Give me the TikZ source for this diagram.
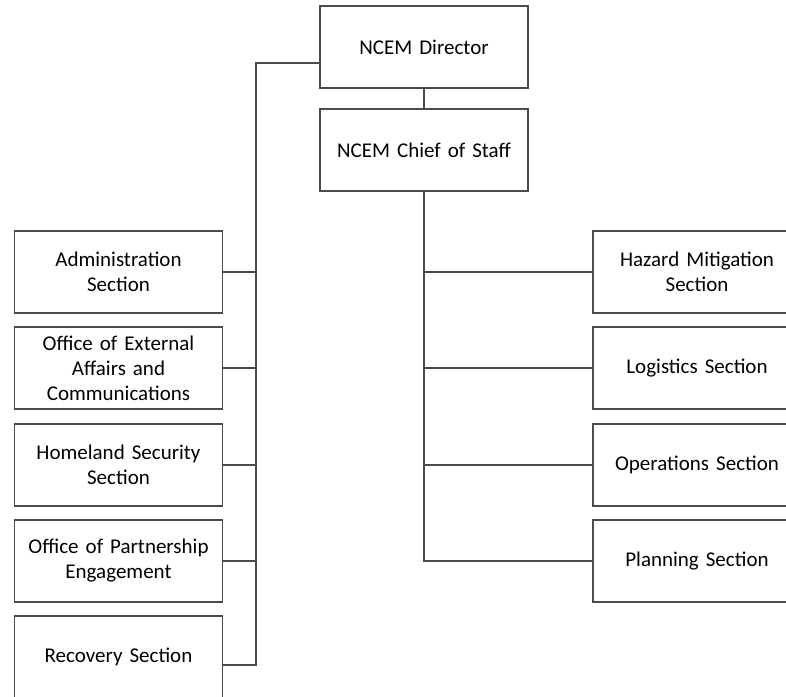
\documentclass[tikz,border=0pt]{standalone}
\usepackage{fontspec}
\setmainfont{Carlito}
\begin{document}
\begin{tikzpicture}[x=1pt,y=-1pt,
  orgbox/.style={draw=black!70, line width=1.3pt, fill=white, minimum width=208pt, minimum height=82pt,
    text width=200pt, align=center, font=\fontsize{21}{25}\selectfont, text=black, inner sep=0pt},
  link/.style={draw=black!70, line width=1.3pt}]
\useasboundingbox (0,0) rectangle (786,696);
\clip (0,0) rectangle (786,696);
\node[orgbox] (dir) at (424,47) {NCEM Director};
\node[orgbox] (cos) at (424,150) {NCEM Chief of Staff};
\node[orgbox] (adm) at (118.5,272) {Administration\\Section};
\node[orgbox] (ext) at (118.5,368) {Office of External\\Affairs and\\Communications};
\node[orgbox] (hom) at (118.5,465) {Homeland Security\\Section};
\node[orgbox] (par) at (118.5,561) {Office of Partnership\\Engagement};
\node[orgbox] (rec) at (118.5,657) {Recovery Section};
\node[orgbox] (haz) at (697,272) {Hazard Mitigation\\Section};
\node[orgbox] (log) at (697,368) {Logistics Section};
\node[orgbox] (ops) at (697,465) {Operations Section};
\node[orgbox] (pla) at (697,561) {Planning Section};
\coordinate (ltop) at (256,63);
\coordinate (lbot) at (256,665);
\draw[link] (dir.south) -- (cos.north);
\draw[link] (dir.west |- ltop) -- (ltop) -- (lbot) -- (rec.east |- lbot);
\draw[link] (adm.east) -- (adm.east -| ltop);
\draw[link] (ext.east) -- (ext.east -| ltop);
\draw[link] (hom.east) -- (hom.east -| ltop);
\draw[link] (par.east) -- (par.east -| ltop);
\draw[link] (cos.south) -- (cos.south |- pla.west) -- (pla.west);
\draw[link] (haz.west) -- (haz.west -| cos.south);
\draw[link] (log.west) -- (log.west -| cos.south);
\draw[link] (ops.west) -- (ops.west -| cos.south);
\end{tikzpicture}
\end{document}
